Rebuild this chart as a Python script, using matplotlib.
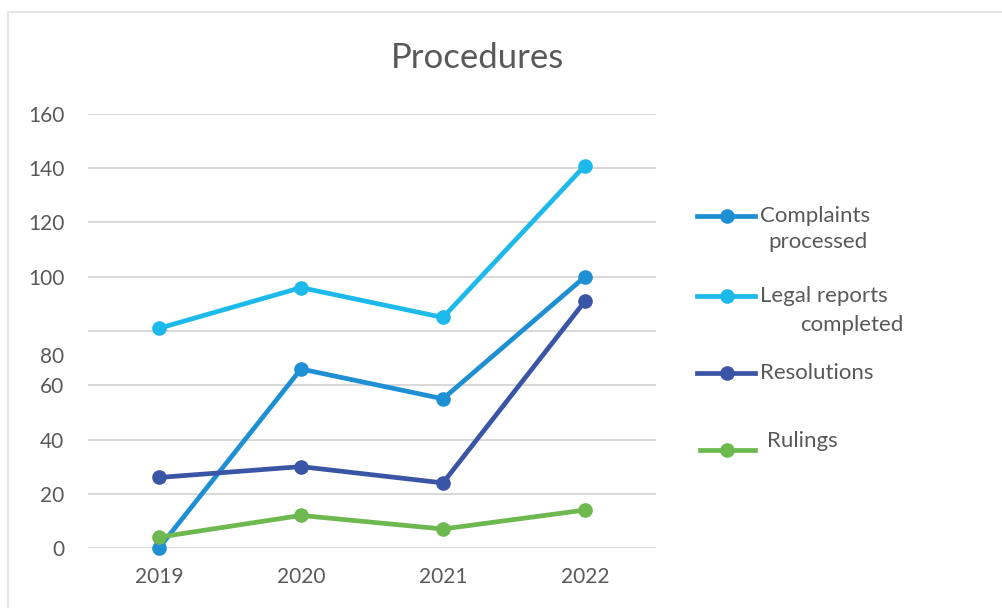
import matplotlib.pyplot as plt
from matplotlib.lines import Line2D
from matplotlib.patches import Rectangle

# === Data ===
years = ["2019", "2020", "2021", "2022"]
complaints = [0, 66, 55, 100]
legal_reports = [81, 96, 85, 141]
resolutions = [26, 30, 24, 91]
rulings = [4, 12, 7, 14]

major_ticks = [0, 20, 40, 60, 80, 100, 120, 140, 160]
major_labels = ["0", "20", "40", "60", "", "100", "120", "140", "160"]
odd_tick = [71]
odd_label = ["80"]

series = [
    ("Complaints\nprocessed", complaints, "#1F8FD3"),
    ("Legal reports\ncompleted", legal_reports, "#1DB9EA"),
    ("Resolutions", resolutions, "#3B55A6"),
    ("Rulings", rulings, "#6DB84F"),
]

plt.rcParams['font.family'] = ['Lato', 'DejaVu Sans']
TXT = "#595959"
W, H = 1002, 608

fig = plt.figure(figsize=(W / 100, H / 100), dpi=100)
ax = fig.add_axes([88 / W, 1 - 548 / H, (656 - 88) / W, (548 - 114) / H])

x = range(len(years))
for name, vals, col in series:
    ax.plot(x, vals, color=col, lw=3.4, marker='o', ms=9.5, clip_on=False, zorder=3)

ax.set_xlim(-0.5, 3.5)
ax.set_ylim(0, 160)
ax.set_xticks(list(x), years)
ax.set_yticks(major_ticks, major_labels)
ax.set_yticks(odd_tick, odd_label, minor=True)
ax.yaxis.grid(True, which='major', color='#D9D9D9', lw=1.5)
ax.set_axisbelow(True)
for s in ax.spines.values():
    s.set_visible(False)
ax.tick_params(axis='both', which='both', length=0, labelsize=15, labelcolor=TXT)
ax.tick_params(axis='y', which='both', pad=17)
ax.tick_params(axis='x', pad=14)

fig.text(477 / W, 1 - 58 / H, "Procedures", ha='center', va='center', fontsize=25, color=TXT)

# === Legend drawn by hand ===
def fy(p):
    return 1 - p / H

legend_rows = [
    (216, 697, [("Complaints", 760, 216), ("processed", 768, 242)]),
    (296, 697, [("Legal reports", 760, 296), ("completed", 800, 325)]),
    (373, 697, [("Resolutions", 760, 373)]),
    (450, 700, [("Rulings", 767, 441)]),
]
for (yl, x0, texts), (name, vals, col) in zip(legend_rows, series):
    fig.add_artist(Line2D([x0 / W, 755 / W], [fy(yl), fy(yl)], color=col, lw=3.4))
    fig.add_artist(Line2D([727 / W], [fy(yl)], color=col, marker='o', ms=9.5))
    for t, tx, ty in texts:
        fig.text(tx / W, fy(ty), t, ha='left', va='center', fontsize=16, color=TXT)

# faint chart frame
fig.add_artist(Rectangle((8 / W, -0.01), 1.0, fy(12) + 0.01, transform=fig.transFigure,
                         fill=False, edgecolor='#E6E6E6', lw=1.5))

fig.savefig("out.png", dpi=100)
